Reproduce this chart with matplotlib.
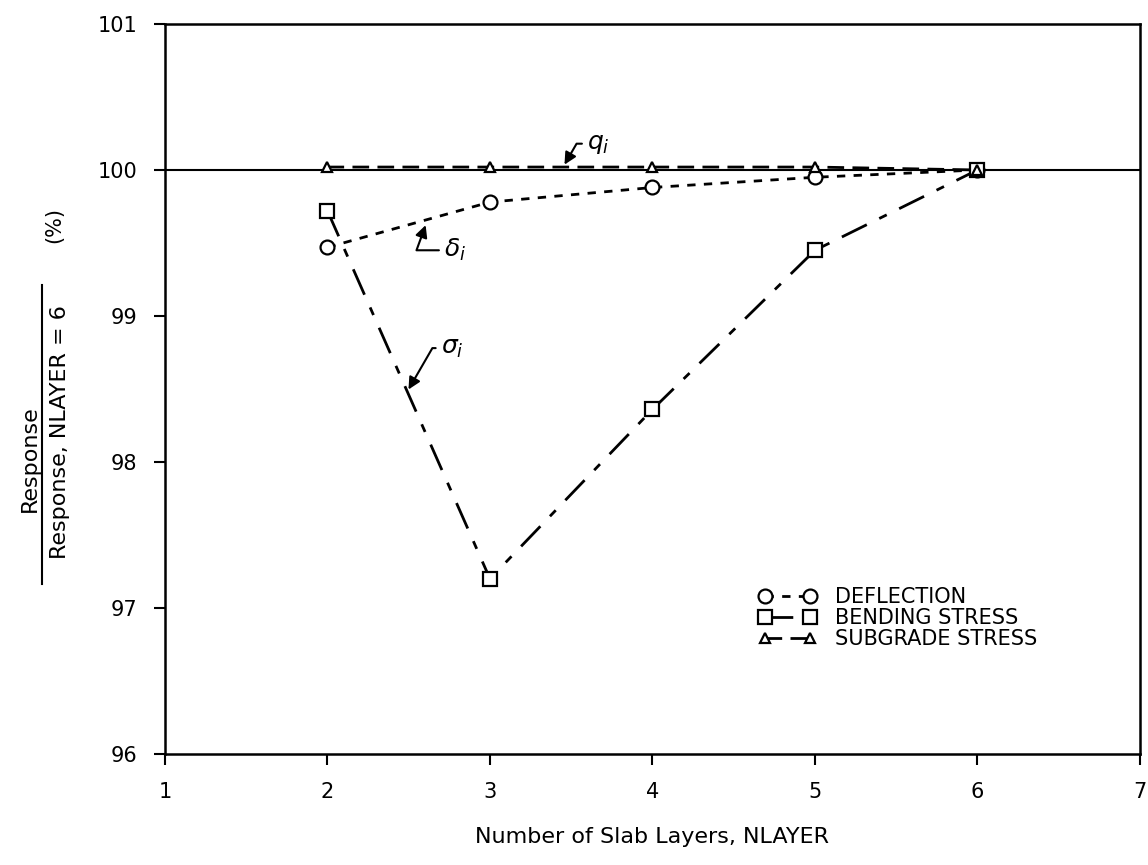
import matplotlib
matplotlib.use('Agg')
import matplotlib.pyplot as plt
from matplotlib.lines import Line2D

# data
nlayer = [2, 3, 4, 5, 6]
deflection = [99.47, 99.78, 99.88, 99.95, 100.0]
bending_stress = [99.72, 97.20, 98.36, 99.45, 100.0]
subgrade_stress = [100.02, 100.02, 100.02, 100.02, 100.0]

x_ticks = [1, 2, 3, 4, 5, 6, 7]
y_ticks = [96, 97, 98, 99, 100, 101]
legend_labels = ['DEFLECTION', 'BENDING STRESS', 'SUBGRADE STRESS']

plt.rcParams['font.family'] = ['DejaVu Sans']

fig = plt.figure(figsize=(11.48, 8.65), dpi=100)
ax = fig.add_axes([0.1437, 0.1283, 0.8493, 0.844])

ax.axhline(100, color='black', lw=1.5, zorder=1)

mk = dict(markerfacecolor='white', markeredgecolor='black', markeredgewidth=1.6)
ax.plot(nlayer, deflection, color='black', lw=2, dashes=(3, 3), marker='o', markersize=10,
        label=legend_labels[0], **mk)
ax.plot(nlayer, bending_stress, color='black', lw=2, dashes=(10, 5, 3, 5), marker='s', markersize=10,
        label=legend_labels[1], **mk)
ax.plot(nlayer, subgrade_stress, color='black', lw=2, dashes=(6, 3), marker='^', markersize=7,
        label=legend_labels[2], **mk)

ax.set_xlim(1, 7)
ax.set_ylim(96, 101)
ax.set_xticks(x_ticks)
ax.set_yticks(y_ticks)
ax.tick_params(direction='out', length=8, width=1.5, labelsize=15, pad=12)
for s in ax.spines.values():
    s.set_linewidth(1.8)

# curve labels with leader lines
ax.annotate(r'$q_i$', xy=(3.45, 100.02), xytext=(3.6, 100.18), fontsize=18, va='center',
            arrowprops=dict(arrowstyle='-|>', color='black', lw=1.5,
                            connectionstyle='angle,angleA=0,angleB=60,rad=0'))
ax.annotate(r'$\delta_i$', xy=(2.61, 99.64), xytext=(2.72, 99.45), fontsize=18, va='center',
            arrowprops=dict(arrowstyle='-|>', color='black', lw=1.5,
                            connectionstyle='angle,angleA=0,angleB=70,rad=0'))
ax.annotate(r'$\sigma_i$', xy=(2.49, 98.48), xytext=(2.7, 98.78), fontsize=18, va='center',
            arrowprops=dict(arrowstyle='-|>', color='black', lw=1.5,
                            connectionstyle='angle,angleA=0,angleB=60,rad=0'))

ax.legend(loc='upper left', bbox_to_anchor=(0.6, 0.24), frameon=False, numpoints=2,
          fontsize=15, handlelength=2.8, handletextpad=0.9, labelspacing=0.05,
          borderaxespad=0)

ax.set_xlabel('Number of Slab Layers, NLAYER', fontsize=16, labelpad=18)

# fraction-style y label
fig.text(0.026, 0.47, 'Response', rotation=90, ha='center', va='center', fontsize=16)
fig.text(0.052, 0.5, 'Response, NLAYER = 6', rotation=90, ha='center', va='center', fontsize=16)
fig.add_artist(Line2D([0.037, 0.037], [0.325, 0.67], transform=fig.transFigure,
                      color='black', lw=1.5))
fig.text(0.047, 0.74, '(%)', rotation=90, ha='center', va='center', fontsize=15)

fig.savefig('out.png', dpi=100)
